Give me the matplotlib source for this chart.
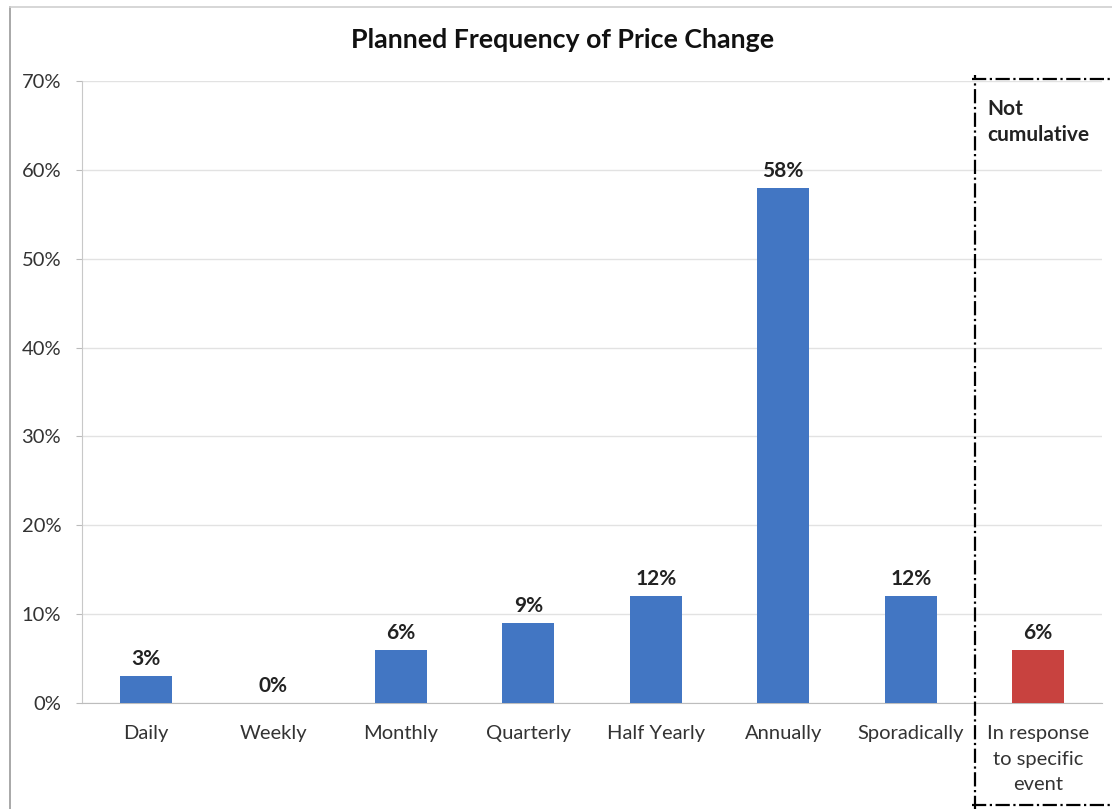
import matplotlib
matplotlib.use("Agg")
import matplotlib.pyplot as plt
from matplotlib.lines import Line2D

plt.rcParams['font.family'] = ['Lato', 'DejaVu Sans']

categories = ["Daily", "Weekly", "Monthly", "Quarterly", "Half Yearly",
              "Annually", "Sporadically", "In response\nto specific\nevent"]
values = [3, 0, 6, 9, 12, 58, 12, 6]
bar_colors = ["#4276C3"] * 7 + ["#C8423F"]
yticks = [0, 10, 20, 30, 40, 50, 60, 70]

W, H = 1112, 809
fig = plt.figure(figsize=(W / 100, H / 100), dpi=100)
fig.patch.set_facecolor("white")

ax = fig.add_axes([82 / W, 1 - 703 / H, (1102 - 82) / W, (703 - 81) / H])
x = list(range(len(categories)))
bars = ax.bar(x, values, width=0.41, color=bar_colors, zorder=3)

ax.set_xlim(-0.5, len(categories) - 0.5)
ax.set_ylim(0, 70)
ax.set_yticks(yticks)
ax.set_yticklabels([f"{t}%" for t in yticks], fontsize=14.5, color="#333333")
ax.set_xticks(x)
ax.set_xticklabels(categories, fontsize=14.5, color="#333333", linespacing=1.6)
ax.tick_params(axis="y", length=4, color="#BBBBBB", pad=11)
ax.tick_params(axis="x", length=0, pad=16)
ax.grid(axis="y", color="#E2E2E2", linewidth=1, zorder=0)
for side in ("top", "right"):
    ax.spines[side].set_visible(False)
ax.spines["left"].set_color("#C8C8C8")
ax.spines["bottom"].set_color("#BDBDBD")

for b, v in zip(bars, values):
    ax.annotate(f"{v}%", (b.get_x() + b.get_width() / 2, v),
                xytext=(0, 5), textcoords="offset points",
                ha="center", va="bottom", fontsize=15, fontweight="bold",
                color="#222222")

# Separator between cumulative and non-cumulative answers
ax.add_line(Line2D([6.5, 6.5], [-12, 70.7], transform=ax.transData, clip_on=False,
                   color="black", linewidth=1.6, linestyle="-.", zorder=4))
fig.add_artist(Line2D([972 / W, 1.0], [1 - 79 / H] * 2, color="black",
                      linewidth=1.6, linestyle="-.", zorder=4))
fig.add_artist(Line2D([972 / W, 1.0], [1 - 805 / H] * 2, color="black",
                      linewidth=1.6, linestyle="-.", zorder=4))
fig.text(987 / W, 1 - 122 / H, "Not\ncumulative", fontsize=15, fontweight="bold",
         color="#222222", ha="left", va="center", linespacing=1.35)

# Outer chart frame
fig.add_artist(Line2D([10 / W, 10 / W], [0, 1 - 7 / H], color="#9A9A9A", linewidth=1.2))
fig.add_artist(Line2D([10 / W, 1.0], [1 - 7 / H] * 2, color="#D0D0D0", linewidth=1.2))

fig.text(563 / W, 1 - 40 / H, "Planned Frequency of Price Change",
         fontsize=19.3, fontweight="bold", color="#111111", ha="center", va="center")

fig.savefig("out.png", dpi=100, facecolor="white")
